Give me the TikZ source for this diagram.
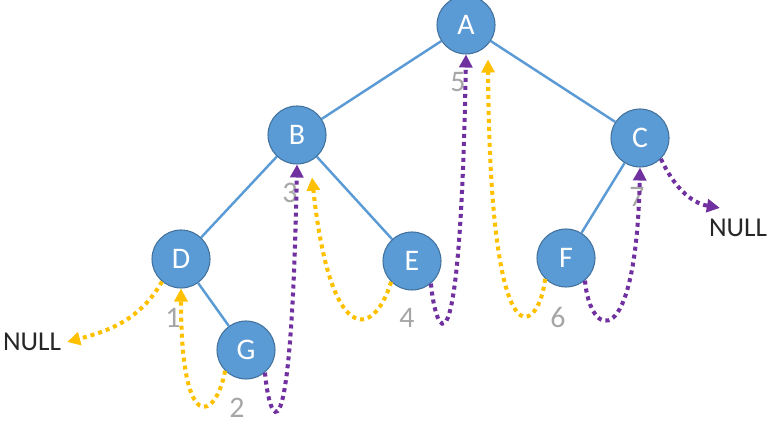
\documentclass[tikz,border=0pt]{standalone}
\usepackage{fontspec}
\setmainfont{Carlito}
\usetikzlibrary{arrows.meta}

\definecolor{azul}{HTML}{5B9BD5}
\definecolor{azulborda}{HTML}{41719C}
\definecolor{amarelo}{HTML}{FFC000}
\definecolor{roxo}{HTML}{7030A0}
\definecolor{cinza}{HTML}{A6A6A6}

\tikzset{
  vertice/.style={circle, fill=azul, draw=azulborda, line width=0.6pt,
    minimum size=1.16cm, inner sep=0pt, text=white,
    font=\fontsize{17}{20}\selectfont},
  aresta/.style={azul, line width=1.4pt},
  setaesq/.style={amarelo, line width=2.3pt, dash pattern=on 0.08cm off 0.08cm,
    -{Triangle[length=0.26cm,width=0.26cm]}},
  setadir/.style={roxo, line width=2.3pt, dash pattern=on 0.08cm off 0.08cm,
    -{Triangle[length=0.26cm,width=0.26cm]}},
  ordem/.style={text=cinza, font=\fontsize{17}{20}\selectfont},
  nulo/.style={text=black!85, font=\fontsize{15.5}{18}\selectfont}
}

\begin{document}
\begin{tikzpicture}
    \useasboundingbox (0,0) rectangle (15.48,8.52);

    % Vértices da árvore
    \node[vertice] (A) at (9.32,8.02) {A};
    \node[vertice] (B) at (5.94,5.82) {B};
    \node[vertice] (C) at (12.80,5.76) {C};
    \node[vertice] (D) at (3.62,3.34) {D};
    \node[vertice] (E) at (8.24,3.30) {E};
    \node[vertice] (F) at (11.32,3.36) {F};
    \node[vertice] (G) at (4.92,1.52) {G};

    % Arestas
    \draw[aresta] (A) -- (B);
    \draw[aresta] (A) -- (C);
    \draw[aresta] (B) -- (D);
    \draw[aresta] (B) -- (E);
    \draw[aresta] (C) -- (F);
    \draw[aresta] (D) -- (G);

    % Ordem de visita
    \node[ordem] (n1) at (3.46,2.16) {1};
    \node[ordem] (n2) at (4.74,0.36) {2};
    \node[ordem] (n3) at (5.80,4.66) {3};
    \node[ordem] (n4) at (8.14,2.16) {4};
    \node[ordem] (n5) at (9.16,6.88) {5};
    \node[ordem] (n6) at (11.16,2.16) {6};
    \node[ordem] (n7) at (12.74,4.58) {7};

    % Ponteiros nulos
    \node[nulo] (nuloE) at (0.64,1.68) {NULL};
    \node[nulo] (nuloD) at (14.76,3.96) {NULL};

    % Setas amarelas
    \draw[setaesq] (D.230) to[out=240,in=15] (nuloE.east);
    \draw[setaesq] (G.225) .. controls +(-0.18,-0.96) and +(0,-3.0) .. (D.south);
    \draw[setaesq] (E.225) .. controls +(-0.36,-1.16) and +(0.36,-3.36) .. ([xshift=0.3cm,yshift=-0.26cm]B.south);
    \draw[setaesq] (F.225) .. controls +(-0.1,-1.0) and +(0.04,-6.42) .. ([xshift=0.44cm,yshift=-0.1cm]A.south);

    % Setas roxas
    \draw[setadir] (G.310) .. controls +(0.08,-0.96) and +(-0.12,-6.32) .. (B.south);
    \draw[setadir] (E.310) .. controls +(0.08,-0.94) and +(-0.12,-6.92) .. (A.south);
    \draw[setadir] (F.310) .. controls +(0.1,-1.16) and +(-0.08,-3.76) .. (C.south);
    \draw[setadir] (C.315) to[out=-65,in=170] ([xshift=0.34cm,yshift=0.1cm]nuloD.north west);

\end{tikzpicture}
\end{document}
